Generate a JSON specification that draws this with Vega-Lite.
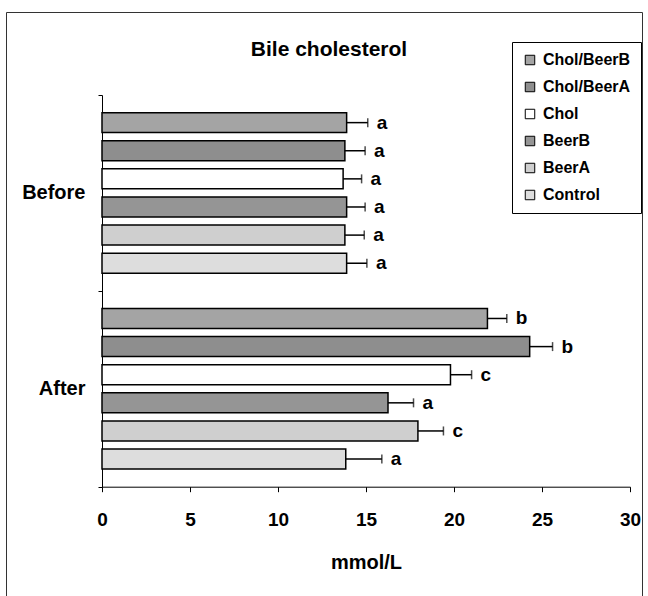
{
  "$schema": "https://vega.github.io/schema/vega-lite/v6.json",
  "width": 636,
  "height": 585,
  "padding": {"left": 6, "top": 12, "right": 6, "bottom": 0},
  "autosize": {"type": "none"},
  "background": "white",
  "config": {
    "font": "Liberation Sans",
    "view": {"stroke": "#333333", "strokeWidth": 1},
    "axis": {
      "domainColor": "black",
      "tickColor": "black",
      "labelColor": "black",
      "titleColor": "black",
      "grid": false,
      "labelFontWeight": "bold",
      "titleFontWeight": "bold"
    }
  },
  "title": {
    "text": "Bile cholesterol",
    "fontSize": 21,
    "fontWeight": "bold",
    "anchor": "middle",
    "frame": "group",
    "offset": -45,
    "baseline": "alphabetic",
    "dx": 5,
    "dy": 30,
    "color": "black"
  },
  "data": {
    "values": [
      {"period": "Before", "group": "Chol/BeerB", "mean": 13.9, "upper": 15.1, "letter": "a"},
      {"period": "Before", "group": "Chol/BeerA", "mean": 13.8, "upper": 14.95, "letter": "a"},
      {"period": "Before", "group": "Chol", "mean": 13.7, "upper": 14.75, "letter": "a"},
      {"period": "Before", "group": "BeerB", "mean": 13.9, "upper": 14.95, "letter": "a"},
      {"period": "Before", "group": "BeerA", "mean": 13.8, "upper": 14.9, "letter": "a"},
      {"period": "Before", "group": "Control", "mean": 13.9, "upper": 15.05, "letter": "a"},
      {"period": "After", "group": "Chol/BeerB", "mean": 21.9, "upper": 23.0, "letter": "b"},
      {"period": "After", "group": "Chol/BeerA", "mean": 24.3, "upper": 25.6, "letter": "b"},
      {"period": "After", "group": "Chol", "mean": 19.8, "upper": 21.0, "letter": "c"},
      {"period": "After", "group": "BeerB", "mean": 16.25, "upper": 17.7, "letter": "a"},
      {"period": "After", "group": "BeerA", "mean": 17.95, "upper": 19.4, "letter": "c"},
      {"period": "After", "group": "Control", "mean": 13.85, "upper": 15.9, "letter": "a"}
    ]
  },
  "encoding": {
    "y": {
      "field": "period",
      "type": "nominal",
      "sort": ["Before", "After"],
      "scale": {"range": [83, 474.7], "paddingInner": 0, "paddingOuter": 0},
      "axis": {
        "title": null,
        "orient": "left",
        "offset": -96,
        "tickBand": "extent",
        "tickSize": 4,
        "labelPadding": 13,
        "labelFontSize": 20,
        "labelAngle": 0
      }
    },
    "yOffset": {
      "field": "group",
      "type": "nominal",
      "sort": ["Chol/BeerB", "Chol/BeerA", "Chol", "BeerB", "BeerA", "Control"],
      "scale": {"paddingInner": 0.289, "paddingOuter": 0.627}
    }
  },
  "layer": [
    {
      "mark": {"type": "bar", "stroke": "black", "strokeWidth": 1.5},
      "encoding": {
        "x": {
          "field": "mean",
          "type": "quantitative",
          "title": "mmol/L",
          "scale": {"domain": [0, 30], "range": [96, 624], "nice": false, "zero": true},
          "axis": {
            "offset": -110.3,
            "values": [0, 5, 10, 15, 20, 25, 30],
            "tickSize": 5,
            "labelFontSize": 19,
            "labelPadding": 19,
            "labelFlush": false,
            "titleFontSize": 20,
            "titlePadding": 23
          }
        },
        "color": {
          "field": "group",
          "type": "nominal",
          "sort": ["Chol/BeerB", "Chol/BeerA", "Chol", "BeerB", "BeerA", "Control"],
          "scale": {
            "domain": ["Chol/BeerB", "Chol/BeerA", "Chol", "BeerB", "BeerA", "Control"],
            "range": ["#a4a4a4", "#8e8e8e", "#ffffff", "#959595", "#cfcfcf", "#dddddd"]
          },
          "legend": {
            "title": null,
            "orient": "none",
            "legendX": 506,
            "legendY": 30,
            "strokeColor": "black",
            "padding": 10,
            "symbolType": "square",
            "symbolSize": 90,
            "symbolStrokeColor": "black",
            "symbolStrokeWidth": 1,
            "labelFontSize": 16,
            "labelFontWeight": "bold",
            "labelColor": "black",
            "labelOffset": 5,
            "rowPadding": 11,
            "labelLimit": 300
          }
        }
      }
    },
    {
      "mark": {"type": "rule", "strokeWidth": 1.5, "color": "black"},
      "encoding": {
        "x": {"field": "mean", "type": "quantitative", "title": "mmol/L"},
        "x2": {"field": "upper"}
      }
    },
    {
      "mark": {"type": "tick", "orient": "vertical", "size": 9, "thickness": 1.5, "color": "black"},
      "encoding": {
        "x": {"field": "upper", "type": "quantitative", "title": "mmol/L"}
      }
    },
    {
      "mark": {"type": "text", "align": "left", "baseline": "middle", "dx": 9, "fontSize": 19, "fontWeight": "bold", "color": "black"},
      "encoding": {
        "x": {"field": "upper", "type": "quantitative", "title": "mmol/L"},
        "text": {"field": "letter"}
      }
    }
  ]
}
